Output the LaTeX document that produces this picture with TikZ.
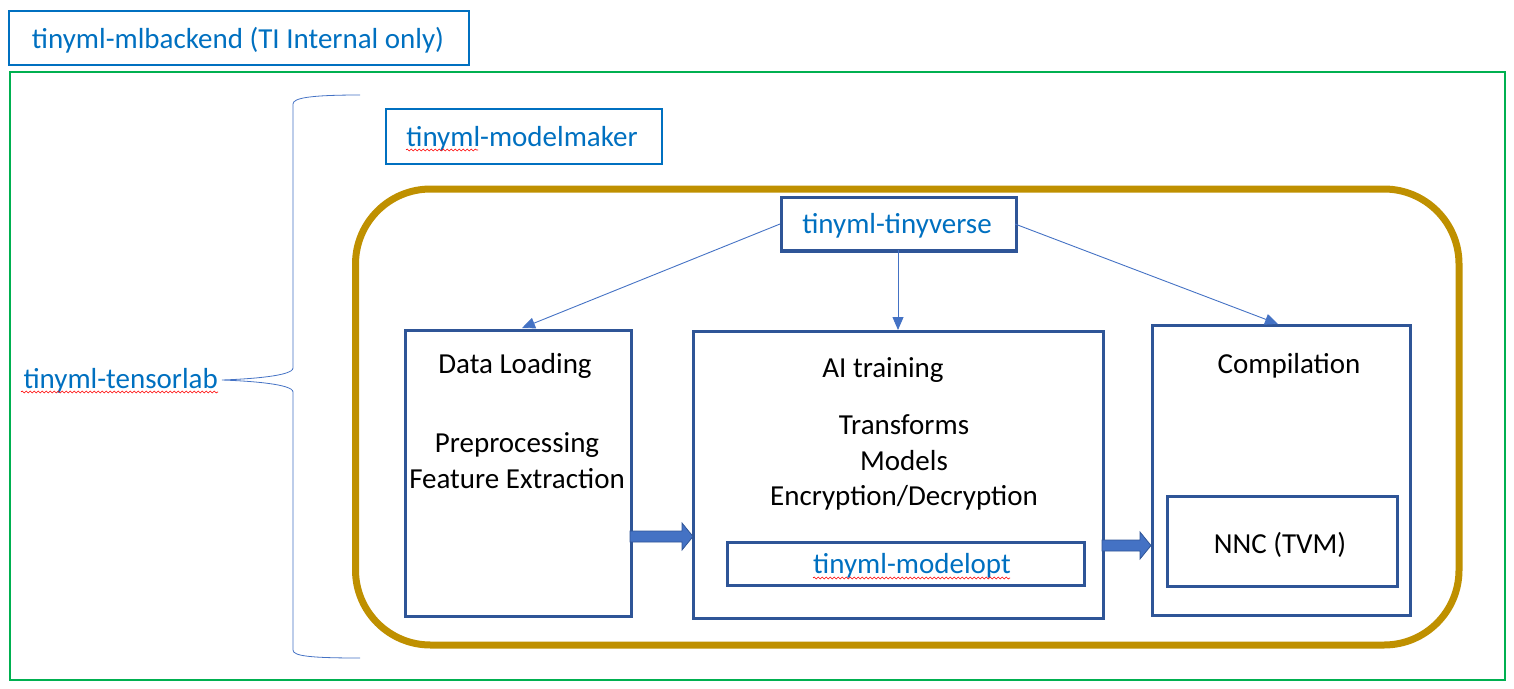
\documentclass[tikz,border=0pt]{standalone}
\usepackage{fontspec}
\setmainfont{Carlito}
\usetikzlibrary{decorations.pathmorphing,arrows.meta}
\definecolor{tblue}{HTML}{0070C0}
\definecolor{dblue}{HTML}{2F5597}
\definecolor{ablue}{HTML}{4472C4}
\definecolor{gold}{HTML}{BF9000}
\definecolor{tgreen}{HTML}{00B050}
\begin{document}
\begin{tikzpicture}[x=1pt,y=-1pt,
  txt/.style={font=\fontsize{29}{34}\selectfont, inner sep=0pt, text height=22pt, text depth=2pt},
  btxt/.style={txt, text=tblue},
  lbox/.style={draw=tblue, line width=1.6pt},
  dbox/.style={draw=dblue, line width=2.6pt},
  thin arrow/.style={draw=ablue, line width=0.9pt, -{Triangle[length=13pt,width=11pt]}},
  squig/.style={draw=red, line width=0.6pt, decorate, decoration={snake, amplitude=1pt, segment length=4pt}}]
\useasboundingbox (0,0) rectangle (1514,688);
% outer boxes
\node[lbox, minimum width=460pt, minimum height=54pt, anchor=north west] (mlb) at (8,10) {};
\node[btxt] (mlbt) at (238,38) {tinyml-mlbackend (TI Internal only)};
\draw[tgreen, line width=2.8pt] (10,72) rectangle (1505,680);
\coordinate (green) at (10,72);
% brace
\coordinate (bt) at (360,95);
\coordinate (bb) at (360,658);
\coordinate (btip) at (222,380);
\draw[ablue, line width=0.8pt] (bt) .. controls (310,95) and (293,98) .. (293,104)
  -- (293,368) .. controls (293,376) and (250,379) .. (btip)
  .. controls (250,381) and (293,384) .. (293,392)
  -- (293,650) .. controls (293,656) and (310,658) .. (bb);
\node[btxt, anchor=east] (tlab) at (218,378) {tinyml-tensorlab};
\draw[squig] (21,392) -- (218,392);
% modelmaker
\node[lbox, minimum width=276pt, minimum height=55pt, anchor=north west] (mm) at (385,108) {};
\node[btxt] (mmt) at (522,136) {tinyml-modelmaker};
\draw[squig] (406,150) -- (478,150);
% gold rounded
\draw[gold, line width=7pt, rounded corners=75pt] (355.5,189) rectangle (1459,645);
% tinyverse
\node[draw=dblue, line width=2.6pt, minimum width=235pt, minimum height=54pt, anchor=north west] (tv) at (780,196) {};
\draw[dblue, line width=2pt] (780,249.5) -- (1015,249.5);
\node[btxt] (tvt) at (897,223) {tinyml-tinyverse};
% main boxes
\node[dbox, minimum width=226pt, minimum height=286pt, anchor=north west] (dl) at (404,329) {};
\node[dbox, minimum width=410pt, minimum height=287pt, anchor=north west] (ai) at (692,330) {};
\node[dbox, minimum width=258pt, minimum height=290pt, anchor=north west] (cp) at (1151,324) {};
\node[dbox, minimum width=230pt, minimum height=90pt, anchor=north west] (nnc) at (1166,495) {};
\node[dbox, minimum width=357pt, minimum height=43pt, anchor=north west] (mo) at (726,541) {};
% texts
\node[txt] (t1) at (515,363) {Data Loading};
\node[txt] (t2) at (517,442) {Preprocessing};
\node[txt] (t3) at (517,478) {Feature Extraction};
\node[txt] (t4) at (883,367) {AI training};
\node[txt] (t5) at (904,424) {Transforms};
\node[txt] (t6) at (904,460) {Models};
\node[txt] (t7) at (904,495) {Encryption/Decryption};
\node[txt] (t8) at (1289,363) {Compilation};
\node[txt] (t9) at (1280,543) {NNC (TVM)};
\node[btxt] (t10) at (912,563) {tinyml-modelopt};
\draw[squig] (813,578) -- (1010,578);
% thin arrows
\coordinate (a1s) at (780,224);
\coordinate (a1e) at (522,328);
\coordinate (a2s) at (898,250);
\coordinate (a2e) at (898,330);
\coordinate (a3s) at (1015,224);
\coordinate (a3e) at (1278,324);
\draw[thin arrow] (a1s) -- (a1e);
\draw[thin arrow] (a2s) -- (a2e);
\draw[thin arrow] (a3s) -- (a3e);
% block arrows
\coordinate (b1) at (630,536.5);
\coordinate (b2) at (1102,545.5);
\draw[fill=ablue, draw=dblue, line width=0.8pt] (b1) ++(0,-5.5) -- ++(52,0) -- ++(0,-8) -- ++(11,13.5) -- ++(-11,13.5) -- ++(0,-8) -- ++(-52,0) -- cycle;
\draw[fill=ablue, draw=dblue, line width=0.8pt] (b2) ++(0,-5.5) -- ++(38,0) -- ++(0,-8) -- ++(11,13.5) -- ++(-11,13.5) -- ++(0,-8) -- ++(-38,0) -- cycle;
\end{tikzpicture}
\end{document}
